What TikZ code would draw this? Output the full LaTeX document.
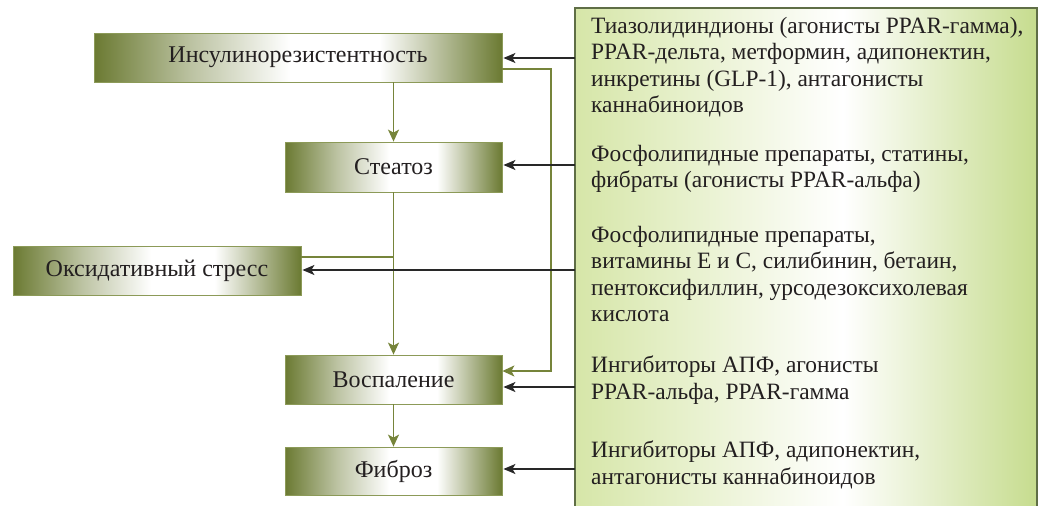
\documentclass[tikz,border=0pt]{standalone}
\usepackage{fontspec}
\setmainfont{Liberation Serif}
\usetikzlibrary{arrows.meta,calc}
\definecolor{ol}{RGB}{107,122,50}
\definecolor{olline}{RGB}{118,132,58}
\definecolor{olborder}{RGB}{140,154,88}
\definecolor{pl}{RGB}{214,230,168}
\definecolor{pr}{RGB}{198,220,142}
\definecolor{pborder}{RGB}{95,110,70}
\definecolor{txt}{RGB}{35,31,32}
\definecolor{blk}{RGB}{40,40,40}
\pgfdeclarehorizontalshading{boxshade}{100bp}{color(0bp)=(ol); color(25bp)=(ol); color(37bp)=(ol!45!white); color(49bp)=(white); color(60bp)=(white); color(75bp)=(ol); color(100bp)=(ol)}
\pgfdeclarehorizontalshading{panelshade}{100bp}{color(0bp)=(pl); color(25bp)=(pl); color(54bp)=(white); color(75bp)=(pr); color(100bp)=(pr)}
\tikzset{
  stage/.style={shading=boxshade, draw=olborder, line width=0.8pt, inner sep=0pt, text=txt, font=\fontsize{24}{26}\selectfont},
  olconn/.style={draw=olline, line width=1.4pt},
  olarrow/.style={olconn, -{Stealth[length=12pt,width=11pt,inset=3pt]}},
  bkarrow/.style={draw=blk, line width=1.5pt, -{Stealth[length=12pt,width=10pt,inset=3pt]}, shorten >=1pt},
  ptext/.style={anchor=west, align=left, text=txt, inner sep=0pt, font=\fontsize{23.4}{26.5}\selectfont}
}
\begin{document}
\begin{tikzpicture}[x=1pt,y=1pt]
\useasboundingbox (0,0) rectangle (1042,-506);
\begin{scope}
\clip (0,0) rectangle (1042,-506);
\node[shading=panelshade, draw=pborder, line width=1.3pt, minimum width=462pt, minimum height=510pt, inner sep=0pt] (panel) at (806,-263) {};
\end{scope}
\node[ptext] (t1) at (591,-67) {Тиазолидиндионы (агонисты PPAR-гамма),\\PPAR-дельта, метформин, адипонектин,\\инкретины (GLP-1), антагонисты\\каннабиноидов};
\node[ptext] (t2) at (591,-169) {Фосфолипидные препараты, статины,\\фибраты (агонисты PPAR-альфа)};
\node[ptext] (t3) at (591,-274) {Фосфолипидные препараты,\\витамины Е и С, силибинин, бетаин,\\пентоксифиллин, урсодезоксихолевая\\кислота};
\node[ptext] (t4) at (591,-380) {Ингибиторы АПФ, агонисты\\PPAR-альфа, PPAR-гамма};
\node[ptext] (t5) at (591,-465) {Ингибиторы АПФ, адипонектин,\\антагонисты каннабиноидов};

\node[stage, minimum width=408pt, minimum height=49pt] (ins) at (298,-57.5) {Инсулинорезистентность};
\node[stage, minimum width=217pt, minimum height=50pt] (ste) at (393.5,-167) {Стеатоз};
\node[stage, minimum width=288pt, minimum height=49pt] (oxi) at (157,-270.5) {Оксидативный стресс};
\node[stage, minimum width=217pt, minimum height=49pt] (vos) at (393.5,-379.5) {Воспаление};
\node[stage, minimum width=217pt, minimum height=48pt] (fib) at (393.5,-471) {Фиброз};

% olive connectors
\draw[olarrow] (ste.north |- ins.south) -- (ste.north);
\draw[olarrow] (ste.south) -- (vos.north);
\draw[olarrow] (vos.south) -- (fib.north);
\coordinate (j1) at (393.5,-257);
\draw[olconn] (j1) -- (j1 -| oxi.east);
\coordinate (l1) at (502,-69);
\coordinate (l2) at (551,-69);
\coordinate (l3) at (551,-371);
\draw[olarrow] (l1) -- (l2) -- (l3) -- (l3 -| vos.east);

% black arrows
\coordinate (p1) at (575,-58);
\coordinate (p2) at (575,-165);
\coordinate (p3) at (575,-270);
\coordinate (p4) at (575,-387);
\coordinate (p5) at (575,-469);
\draw[bkarrow] (p1) -- (p1 -| ins.east);
\draw[bkarrow] (p2) -- (p2 -| ste.east);
\draw[bkarrow] (p3) -- (p3 -| oxi.east);
\draw[bkarrow] (p4) -- (p4 -| vos.east);
\draw[bkarrow] (p5) -- (p5 -| fib.east);
\end{tikzpicture}
\end{document}
